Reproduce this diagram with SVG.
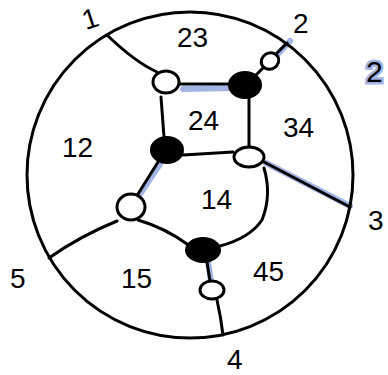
<svg xmlns="http://www.w3.org/2000/svg" width="388" height="375" viewBox="0 0 388 375">
<style>
.ln{fill:none;stroke:#000;stroke-width:3;stroke-linecap:round}
.hl{fill:none;stroke:#a2b4e4;stroke-width:6;stroke-linecap:round}
.wn{fill:#fff;stroke:#000;stroke-width:3}
.bn{fill:#000;stroke:#000;stroke-width:2}
.lb{font-family:"Liberation Sans",Arial,sans-serif;font-size:28px;fill:#000}
</style>
<rect width="388" height="375" fill="#fff"/>
<g id="highlights">
<path class="hl" d="M183,89 L232,88"/>
<path class="hl" d="M275,57 L290,41"/>
<path class="hl" d="M160,164 L138,197"/>
<path class="hl" d="M266,163 L350,206"/>
<path class="hl" d="M208,262 L211,281"/>
</g>
<g id="boundary"><circle cx="190" cy="175" r="163" fill="none" stroke="#000" stroke-width="3"/></g>
<g id="connectors">
<path class="ln" d="M107,35 Q135,62 157,72"/>
<path class="ln" d="M180,84 L229,84"/>
<path class="ln" d="M255,76 L264,67"/>
<path class="ln" d="M277,53 L287,43"/>
<path class="ln" d="M161,97 L164,137"/>
<path class="ln" d="M249,98 L249,146"/>
<path class="ln" d="M183,155 L233,152"/>
<path class="ln" d="M158,162 L138,194"/>
<path class="ln" d="M264,162 L350,207"/>
<path class="ln" d="M264,168 Q272,195 262,220 Q250,238 220,246"/>
<path class="ln" d="M138,220 Q165,228 187,244"/>
<path class="ln" d="M117,221 Q80,236 49,258"/>
<path class="ln" d="M207,262 L210,281"/>
<path class="ln" d="M217,300 Q221,318 223,335"/>
</g>
<g id="nodeA"><ellipse class="wn" cx="166" cy="82" rx="13" ry="11"/></g>
<g id="nodeB"><ellipse class="bn" cx="245" cy="85" rx="16" ry="13"/></g>
<g id="nodeS"><ellipse class="wn" cx="270" cy="61" rx="9" ry="8" transform="rotate(-30 270 61)"/></g>
<g id="nodeC"><ellipse class="bn" cx="167" cy="150" rx="16" ry="13"/></g>
<g id="nodeD"><ellipse class="wn" cx="249" cy="157" rx="15" ry="10"/></g>
<g id="nodeE"><ellipse class="wn" cx="131" cy="207" rx="14" ry="13"/></g>
<g id="nodeF"><ellipse class="bn" cx="203" cy="250" rx="17" ry="12"/></g>
<g id="nodeG"><ellipse class="wn" cx="212" cy="290" rx="12" ry="9"/></g>
<g id="labels">
<text class="lb" x="82" y="29" transform="rotate(-18 88 18)">1</text>
<text class="lb" x="293" y="33">2</text>
<text class="lb" x="368" y="230">3</text>
<text class="lb" x="227" y="369">4</text>
<text class="lb" x="10" y="288">5</text>
<text class="lb" x="177" y="47">23</text>
<text class="lb" x="188" y="130">24</text>
<text class="lb" x="283" y="137">34</text>
<text class="lb" x="62" y="157">12</text>
<text class="lb" x="201" y="209">14</text>
<text class="lb" x="121" y="288">15</text>
<text class="lb" x="253" y="281">45</text>
<text x="366" y="82" font-family="Liberation Sans,Arial,sans-serif" font-size="30" fill="#000" stroke="#a2b4e4" stroke-width="5" paint-order="stroke">2</text>
</g>
</svg>
